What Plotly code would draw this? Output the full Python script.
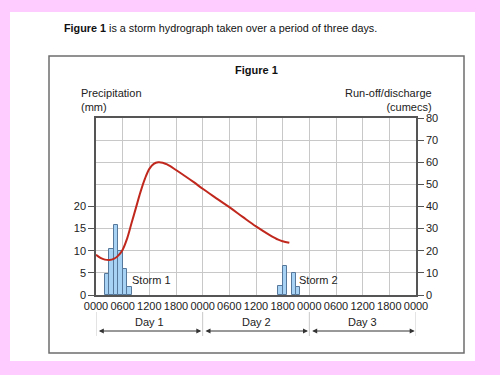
import plotly.graph_objects as go

# ---- data ----
rain_hours_1 = [2.5, 3.5, 4.5, 5.5, 6.5, 7.5]
rain_mm_1 = [4.7, 10.5, 15.8, 9.9, 5.9, 1.7]
rain_hours_2 = [41.5, 42.5, 44.5, 45.5]
rain_mm_2 = [2.0, 6.5, 5.0, 1.7]

flow_hours = [0, 1, 2, 3, 4, 5, 6, 7, 8, 9, 10, 11, 12, 13, 14, 15, 16, 18, 20, 22,
              24, 27, 30, 33, 36, 39, 41, 42, 43.5]
flow_cumecs = [18.2, 16.8, 16.0, 15.8, 16.3, 17.8, 20.5, 25.5, 32.5, 39.5, 46.5, 52.5,
               57.0, 59.3, 60.0, 59.8, 59.0, 56.5, 53.8, 51.0, 48.0, 43.8, 39.7, 35.3,
               31.0, 27.2, 25.0, 24.3, 23.6]

x_tickvals = list(range(0, 73, 6))
x_ticktext = ["0000", "0600", "1200", "1800"] * 3 + ["0000"]
mm_ticks = [0, 5, 10, 15, 20]
day_labels = ["Day 1", "Day 2", "Day 3"]
day_bounds = [0, 24, 48, 72]

FONT = "Liberation Sans, Arial, sans-serif"
TXT = "#222222"

# plot-area pixel box
L, R, T, B = 96, 416, 118, 295
W, H = 500, 375


def px(x):
    return (x - L) / (R - L)


def py(y):
    return (B - y) / (B - T)


fig = go.Figure()
fig.add_trace(go.Bar(x=rain_hours_1 + rain_hours_2, y=rain_mm_1 + rain_mm_2, width=1,
                     marker=dict(color="#a8d2f4", line=dict(color="#56789a", width=1)),
                     yaxis="y", showlegend=False))
fig.add_trace(go.Scatter(x=flow_hours, y=flow_cumecs, mode="lines", line_shape="spline",
                         line=dict(color="#c0281e", width=2), yaxis="y2", showlegend=False))

fig.update_layout(
    width=W, height=H,
    margin=dict(l=L, r=W - R, t=T, b=H - B, pad=0),
    paper_bgcolor="#ffccff", plot_bgcolor="white",
    font=dict(family=FONT, size=11, color=TXT),
    bargap=0,
    xaxis=dict(range=[0, 72], tickvals=x_tickvals, ticktext=x_ticktext, showgrid=True,
               gridcolor="#c8c8c8", gridwidth=1, showline=True, linecolor="#555555",
               linewidth=1.5, mirror=True, ticks="", tickfont=dict(size=11, color=TXT),
               zeroline=False, fixedrange=True),
    yaxis=dict(range=[0, 40], tickvals=mm_ticks, showgrid=False, zeroline=False,
               showline=True, linecolor="#555555", linewidth=1.5, ticks="outside",
               ticklen=6, tickcolor="#555555", tickfont=dict(size=11, color=TXT)),
    yaxis2=dict(range=[0, 80], dtick=10, overlaying="y", side="right", showgrid=True,
                gridcolor="#c8c8c8", gridwidth=1, zeroline=False, showline=True,
                linecolor="#555555", linewidth=1.5, ticks="outside", ticklen=6,
                tickcolor="#555555", tickfont=dict(size=11, color=TXT)),
)

shapes = [
    dict(type="rect", xref="paper", yref="paper", x0=px(10), x1=px(475), y0=py(361),
         y1=py(12), fillcolor="white", line=dict(width=0), layer="below"),
    dict(type="rect", xref="paper", yref="paper", x0=px(49), x1=px(464), y0=py(353),
         y1=py(56), fillcolor="rgba(0,0,0,0)", line=dict(color="#6e6e6e", width=1.5),
         layer="below"),
]
for d in day_bounds:
    shapes.append(dict(type="line", xref="x", yref="paper", x0=d, x1=d, y0=py(312),
                       y1=py(336), line=dict(color="#c8c8c8", width=1)))
fig.update_layout(shapes=shapes)

ann = [
    dict(text="<b>Figure 1</b> is a storm hydrograph taken over a period of three days.",
         xref="paper", yref="paper", x=px(62), y=py(28), xanchor="left", yanchor="middle",
         showarrow=False, font=dict(size=10.8, color="#111111")),
    dict(text="<b>Figure 1</b>", xref="paper", yref="paper", x=px(256), y=py(70),
         xanchor="center", yanchor="middle", showarrow=False, font=dict(size=11, color="#111111")),
    dict(text="Precipitation<br>(mm)", xref="paper", yref="paper", x=px(79), y=py(100),
         xanchor="left", yanchor="middle", align="left", showarrow=False,
         font=dict(size=11, color=TXT)),
    dict(text="Run-off/discharge<br>(cumecs)", xref="paper", yref="paper", x=px(434), y=py(100),
         xanchor="right", yanchor="middle", align="right", showarrow=False,
         font=dict(size=11, color=TXT)),
    dict(text="Storm 1", xref="x", yref="y", x=7.7, y=3.45, xanchor="left", yanchor="middle",
         showarrow=False, font=dict(size=11, color=TXT)),
    dict(text="Storm 2", xref="x", yref="y", x=45.3, y=3.4, xanchor="left", yanchor="middle",
         showarrow=False, font=dict(size=11, color=TXT)),
]
pxh = (R - L) / 72.0
for i, lab in enumerate(day_labels):
    a, b = day_bounds[i], day_bounds[i + 1]
    ann.append(dict(text=lab, xref="x", yref="paper", x=(a + b) / 2, y=py(322),
                    xanchor="center", yanchor="middle", showarrow=False,
                    font=dict(size=11, color=TXT)))
    ann.append(dict(text="", xref="x", yref="paper", x=b - 0.3, y=py(331),
                    ax=-(b - a - 0.6) * pxh, ay=0, showarrow=True, arrowhead=2,
                    arrowside="end+start", arrowsize=1, arrowwidth=1, arrowcolor="#333333"))
fig.update_layout(annotations=ann)

fig.write_html("out.html", config={"displayModeBar": False},
               post_script="document.body.style.margin='0';")
